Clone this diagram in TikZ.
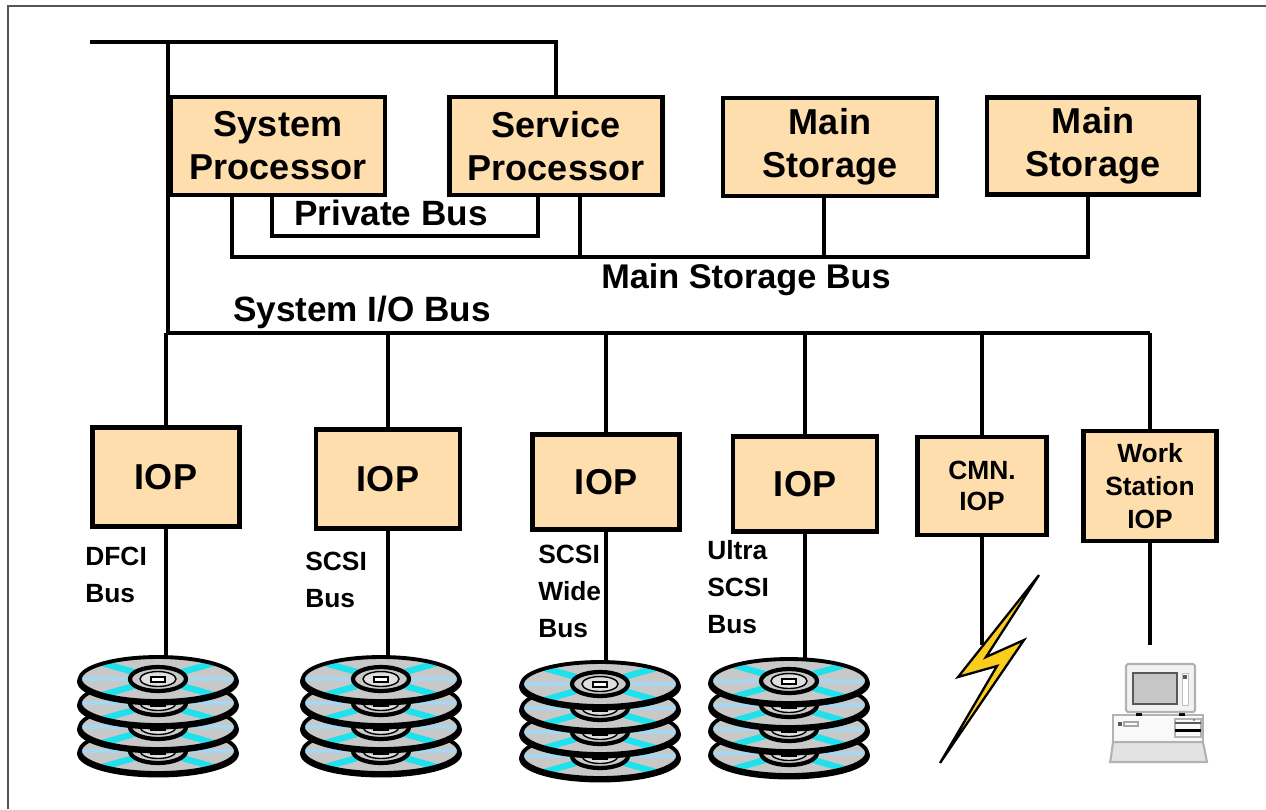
\documentclass[tikz,border=0pt]{standalone}
\usepackage{fontspec}
\setmainfont{Liberation Sans}
\definecolor{peach}{RGB}{255,222,173}
\definecolor{framegray}{RGB}{85,85,85}
\definecolor{diskgray}{RGB}{200,200,200}
\definecolor{bandblue}{RGB}{165,215,240}
\definecolor{bandcyan}{RGB}{30,225,235}
\definecolor{boltyellow}{RGB}{250,204,30}
\begin{document}
\begin{tikzpicture}[x=0.02cm, y=-0.02cm,
  box/.style={draw, line width=2.8pt, fill=peach, inner sep=0pt, align=center},
  bigtxt/.style={font=\fontsize{20.5}{24.5}\selectfont\bfseries},
  smalltxt/.style={font=\fontsize{15}{18}\selectfont\bfseries},
  wstxt/.style={font=\fontsize{15}{19}\selectfont\bfseries},
  bus/.style={line width=2.3pt},
  drop/.style={line width=2pt},
  lbl/.style={inner sep=0pt, anchor=base, font=\fontsize{20}{24}\selectfont\bfseries},
  buslbl/.style={inner sep=0pt, anchor=north west, align=left, font=\fontsize{15}{21}\selectfont\bfseries},
  cdisk/.pic={
    % rim thickness below the platter
    \draw[line width=2.2pt, fill=diskgray] (0,2.5) ellipse [x radius=1.58cm, y radius=0.44cm];
    \fill[diskgray] (0,0) ellipse [x radius=1.56cm, y radius=0.44cm];
    \begin{scope}
      \clip (0,0) ellipse [x radius=1.56cm, y radius=0.44cm];
      \draw[bandblue, line width=2.4pt] (-80,0) -- (80,0);
      \draw[bandcyan, line width=3.6pt] (-80,-23) -- (80,23) (-80,23) -- (80,-23);
    \end{scope}
    \draw[line width=2.4pt, fill=diskgray] (0,0) ellipse [x radius=0.56cm, y radius=0.24cm];
    \draw[line width=0.8pt, fill=gray!25] (0,0) ellipse [x radius=0.36cm, y radius=0.15cm];
    \draw[line width=1pt, fill=white] (-7,-2) rectangle (7,3);
    \draw[line width=2.2pt] (0,0) ellipse [x radius=1.56cm, y radius=0.44cm];
  }
]
\useasboundingbox (0,0) rectangle (1266,809);

% outer frame (left and top edges)
\draw[framegray, line width=1.7pt] (8,809) -- (8,6) -- (1266,6);

% top-level boxes
\node[box, bigtxt, minimum width=4.28cm, minimum height=1.96cm] (sysp) at (278,146) {System\\Processor};
\node[box, bigtxt, minimum width=4.26cm, minimum height=1.96cm] (srvp) at (556,146) {Service\\Processor};
\node[box, bigtxt, minimum width=4.28cm, minimum height=1.96cm] (ms1) at (830,147) {Main\\Storage};
\node[box, bigtxt, minimum width=4.24cm, minimum height=1.94cm] (ms2) at (1093,146) {Main\\Storage};

% I/O processors
\node[box, bigtxt, minimum width=2.94cm, minimum height=1.98cm] (iop1) at (166,477) {IOP};
\node[box, bigtxt, minimum width=2.88cm, minimum height=1.98cm] (iop2) at (388,479) {IOP};
\node[box, bigtxt, minimum width=2.94cm, minimum height=1.90cm] (iop3) at (606,482) {IOP};
\node[box, bigtxt, minimum width=2.88cm, minimum height=1.90cm] (iop4) at (805,484) {IOP};
\node[box, smalltxt, minimum width=2.58cm, minimum height=1.96cm] (cmn) at (982,486) {CMN.\\IOP};
\node[box, wstxt, minimum width=2.66cm, minimum height=2.20cm] (ws) at (1150,486) {Work\\Station\\IOP};

% top line and system I/O bus
\coordinate (tl) at (90,42);
\coordinate (tj) at (168,42);
\coordinate (iob) at (168,333);
\draw[bus] (tl) -| (srvp.north);
\draw[bus] (tj) -- (iob) -- (iob -| ws.north);
\foreach \n in {iop1,iop2,iop3,iop4,cmn,ws}
  \draw[drop] (\n.north |- iob) -- (\n.north);

% private bus
\draw[bus] ([xshift=-0.12cm]sysp.south) -- ++(0,39) -| ([xshift=-0.36cm]srvp.south);

% main storage bus
\coordinate (msy) at (0,257);
\coordinate (t1) at ([xshift=-0.92cm]sysp.south);
\coordinate (t2) at ([xshift=0.48cm]srvp.south);
\coordinate (t3) at ([xshift=-0.12cm]ms1.south);
\coordinate (t4) at ([xshift=-0.10cm]ms2.south);
\draw[bus] (t1) |- (t4 |- msy) -- (t4);
\draw[bus] (t2) -- (t2 |- msy);
\draw[bus] (t3) -- (t3 |- msy);

% bus labels
\node[lbl] (pbl) at (391,225) {Private Bus};
\node[lbl, font=\fontsize{19.5}{24}\selectfont\bfseries] (msbl) at (746,288) {Main Storage Bus};
\node[lbl] (iobl) at (362,321) {System I/O Bus};

\node[buslbl] (l1) at (85,547) {DFCI\\Bus};
\node[buslbl] (l2) at (305,552) {SCSI\\Bus};
\node[buslbl] (l3) at (538,545) {SCSI\\Wide\\Bus};
\node[buslbl] (l4) at (707,540) {Ultra\\SCSI\\Bus};

% disk stacks
\coordinate (d1) at (158,657);
\coordinate (d2) at (381,657);
\coordinate (d3) at (600,662);
\coordinate (d4) at (789,659);
\draw[drop] (iop1.south) -- (iop1.south |- d1);
\draw[drop] (iop2.south) -- (iop2.south |- d2);
\draw[drop] (iop3.south) -- (iop3.south |- d3);
\draw[drop] (iop4.south) -- (iop4.south |- d4);
\foreach \cx/\cy in {158/679, 381/679, 600/684, 789/681} {
  \pic at (\cx,\cy+72) {cdisk};
  \pic at (\cx,\cy+48) {cdisk};
  \pic at (\cx,\cy+24) {cdisk};
  \pic at (\cx,\cy) {cdisk};
}

% communications link
\coordinate (bolt) at (983,645);
\draw[drop] (cmn.south) -- (cmn.south |- bolt);
\draw[line width=1.3pt, fill=boltyellow, line join=miter]
  (1039,575) -- (958,677) -- (997,666) -- (940,763) -- (1024,640) -- (986,657) -- cycle;

% workstation
\coordinate (pc) at (1155,645);
\draw[drop] (ws.south) -- (ws.south |- pc);
\draw[gray!60, line width=1.2pt, fill=gray!22]
  (1113,742) -- (1203,742) -- (1206,757) -- (1207,762) -- (1110,762) -- (1111,757) -- cycle;
\draw[gray!60, line width=1.2pt, fill=gray!5] (1113,715) rectangle (1203,742);
\fill[gray!70!black] (1118,722) rectangle (1122,726);
\draw[gray!70, line width=0.6pt] (1124,722) rectangle (1138,726);
\draw[gray!60, line width=0.6pt] (1175,719) rectangle (1201,737);
\fill[black] (1175,729) rectangle (1201,732);
\draw[gray!70!black, line width=0.8pt] (1175,723) -- (1201,723);
\fill[red!80] (1194,720) circle [radius=0.6pt];
\fill[black] (1136,711) rectangle (1142,716);
\fill[black] (1179,711) rectangle (1185,716);
\draw[gray!60, line width=1.2pt, fill=gray!10, rounded corners=1pt] (1126,664) rectangle (1195,712);
\draw[gray!70!black, line width=1.6pt, fill=gray!45] (1133,673) rectangle (1177,704);
\draw[gray!50, line width=0.5pt, fill=white] (1182,673) rectangle (1188,705);
\fill[gray!70!black] (1183,675) rectangle (1187,679);
\end{tikzpicture}
\end{document}
